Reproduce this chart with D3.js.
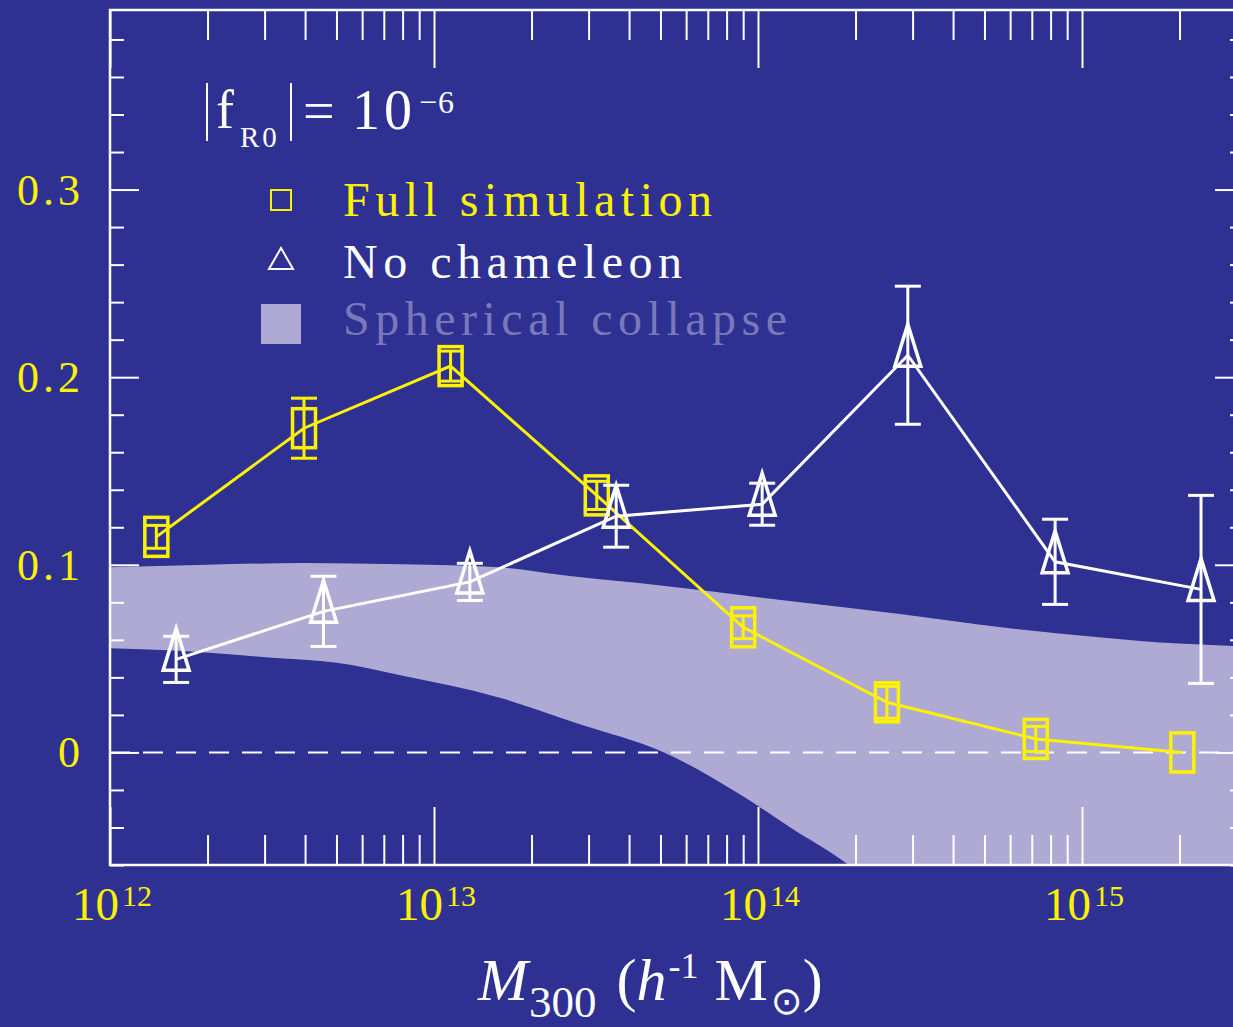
<!DOCTYPE html>
<html>
<head>
<meta charset="utf-8">
<script src="https://cdn.jsdelivr.net/npm/d3@7"></script>
<style>
  html, body { margin: 0; padding: 0; background: #2e3192; }
  svg { display: block; }
</style>
</head>
<body>
<div id="chart"></div>
<script>
// halo mass bins (h^-1 Msun) and fractional deviation
const fullMass = [1.39e12, 3.97e12, 1.125e13, 3.18e13, 9.0e13, 2.5e14, 7.2e14, 2.04e15];
const fullVal  = [0.1149, 0.1728, 0.2059, 0.137, 0.0667, 0.0267, 0.0072, 0.0];
const fullErr  = [0.0061, 0.016, 0.008, 0.0075, 0.0061, 0.0085, 0.0067, 0];

const noChamMass = [1.60e12, 4.56e12, 1.29e13, 3.65e13, 1.03e14, 2.90e14, 8.26e14, 2.33e15];
const noChamVal  = [0.0496, 0.0752, 0.0909, 0.1259, 0.1323, 0.2117, 0.1016, 0.0869];
const noChamErr  = [0.0123, 0.0187, 0.0099, 0.0165, 0.0112, 0.0368, 0.0227, 0.0501];

// spherical collapse band, log10(M) of edge points
const bandUpperLogM = [12.0, 12.3, 12.6, 12.9, 13.2, 13.4, 13.7, 14.13, 14.45, 14.75, 15.06, 15.3, 15.5];
const bandUpper     = [0.0987, 0.1000, 0.1010, 0.1003, 0.0987, 0.0944, 0.0890, 0.0800, 0.0735, 0.0667, 0.0613, 0.0580, 0.0565];
const bandLowerLogM = [12.0, 12.2, 12.5, 12.7, 12.9, 13.2, 13.45, 13.71, 13.95, 14.1, 14.28, 14.45];
const bandLower     = [0.0555, 0.0543, 0.0505, 0.0478, 0.0410, 0.0293, 0.0150, 0.0, -0.023, -0.040, -0.060, -0.085];

const xMajor = [1e12, 1e13, 1e14, 1e15];
const xMajorExp = ["12", "13", "14", "15"];
const yMajor = [0, 0.1, 0.2, 0.3];
const yMajorLabels = ["0", "0.1", "0.2", "0.3"];

const W = 1233, H = 1027;
const bg = "#2e3192", yellow = "#fff200", band = "#aeaad3";
const serif = "'Liberation Serif', 'DejaVu Serif', serif";

const pLeft = 110, pRight = 1244, pTop = 10, pBottom = 865;
const xMax = Math.pow(10, 15.5);
const yMin = -0.06, yMax = 0.3957;

const x = d3.scaleLog().domain([1e12, xMax]).range([pLeft, pRight]);
const y = d3.scaleLinear().domain([yMin, yMax]).range([pBottom, pTop]);

const svg = d3.select("#chart").append("svg")
    .attr("width", W).attr("height", H)
    .style("font-family", serif);

svg.append("rect").attr("width", W).attr("height", H).attr("fill", bg);

svg.append("defs").append("clipPath").attr("id", "plotclip")
  .append("rect")
    .attr("x", pLeft).attr("y", pTop)
    .attr("width", pRight - pLeft).attr("height", pBottom - pTop);

let plot = svg.append("g").attr("clip-path", "url(#plotclip)");

// band
let curve = d3.line().curve(d3.curveMonotoneX);
let upPts = bandUpperLogM.map((m, i) => [x(Math.pow(10, m)), y(bandUpper[i])]);
let loPts = bandLowerLogM.map((m, i) => [x(Math.pow(10, m)), y(bandLower[i])]);
let bandPath = curve(upPts)
    + "L" + x(xMax) + "," + (y(yMin) + 40)
    + "L" + loPts[loPts.length - 1][0] + "," + (y(yMin) + 40)
    + "L" + curve(loPts.slice().reverse()).slice(1) + "Z";
plot.append("path").attr("d", bandPath).attr("fill", band);

// zero line
plot.append("line")
    .attr("x1", pLeft).attr("x2", pRight)
    .attr("y1", y(0)).attr("y2", y(0))
    .attr("stroke", "white").attr("stroke-width", 2)
    .attr("stroke-dasharray", "20,13");

// axes ticks
function minorLogTicks() {
  let t = [];
  for (let e = 12; e <= 15; e++)
    for (let k = 2; k <= 9; k++) {
      let v = k * Math.pow(10, e);
      if (v < xMax) t.push(v);
    }
  return t;
}
let xMinor = minorLogTicks();
let yMinor = d3.range(-0.06, 0.39, 0.02).filter(v => !yMajor.some(m => Math.abs(m - v) < 1e-6));

function styleAxis(g) {
  g.select(".domain").remove();
  g.selectAll("line").attr("stroke", "white").attr("stroke-width", 2);
  g.selectAll("text").remove();
}

svg.append("g").attr("transform", `translate(0,${pBottom})`)
    .call(d3.axisBottom(x).tickValues(xMajor).tickSize(-58)).call(styleAxis);
svg.append("g").attr("transform", `translate(0,${pBottom})`)
    .call(d3.axisBottom(x).tickValues(xMinor).tickSize(-30)).call(styleAxis);
svg.append("g").attr("transform", `translate(0,${pTop})`)
    .call(d3.axisTop(x).tickValues(xMajor).tickSize(-58)).call(styleAxis);
svg.append("g").attr("transform", `translate(0,${pTop})`)
    .call(d3.axisTop(x).tickValues(xMinor).tickSize(-30)).call(styleAxis);

svg.append("g").attr("transform", `translate(${pLeft},0)`)
    .call(d3.axisLeft(y).tickValues(yMajor).tickSize(-29)).call(styleAxis);
svg.append("g").attr("transform", `translate(${pLeft},0)`)
    .call(d3.axisLeft(y).tickValues(yMinor).tickSize(-14)).call(styleAxis);
svg.append("g").attr("transform", `translate(${pRight},0)`)
    .call(d3.axisRight(y).tickValues(yMajor).tickSize(-29)).call(styleAxis);
svg.append("g").attr("transform", `translate(${pRight},0)`)
    .call(d3.axisRight(y).tickValues(yMinor).tickSize(-14)).call(styleAxis);

// frame
svg.append("rect")
    .attr("x", pLeft).attr("y", pTop)
    .attr("width", pRight - pLeft).attr("height", pBottom - pTop)
    .attr("fill", "none").attr("stroke", "white").attr("stroke-width", 2.5);

// tick labels
svg.selectAll(".ylab").data(yMajor).join("text")
    .attr("class", "ylab")
    .attr("x", 84).attr("y", d => y(d) + 15)
    .attr("text-anchor", "end")
    .attr("fill", yellow).attr("font-size", 44)
    .attr("letter-spacing", 4)
    .text((d, i) => yMajorLabels[i]);

let xl = svg.selectAll(".xlab").data(xMajor).join("text")
    .attr("class", "xlab")
    .attr("x", d => x(d) - 38).attr("y", 920)
    .attr("fill", yellow).attr("font-size", 47);
xl.append("tspan").text("10");
xl.append("tspan").attr("font-size", 30).attr("dx", 3).attr("dy", -14)
    .text((d, i) => xMajorExp[i]);

// series
function drawSeries(mass, val, err, color, shape) {
  let g = svg.append("g").attr("clip-path", "url(#plotclip)");
  let pts = mass.map((m, i) => ({x: x(m), y: y(val[i]), lo: y(val[i] - err[i]), hi: y(val[i] + err[i]), e: err[i]}));

  g.append("path")
      .attr("d", d3.line().x(d => d.x).y(d => d.y)(pts))
      .attr("fill", "none").attr("stroke", color).attr("stroke-width", 3);

  let eb = g.selectAll(".eb").data(pts.filter(d => d.e > 0)).join("g")
      .attr("stroke", color).attr("stroke-width", 3);
  eb.append("line").attr("x1", d => d.x).attr("x2", d => d.x).attr("y1", d => d.lo).attr("y2", d => d.hi);
  eb.append("line").attr("x1", d => d.x - 13).attr("x2", d => d.x + 13).attr("y1", d => d.lo).attr("y2", d => d.lo);
  eb.append("line").attr("x1", d => d.x - 13).attr("x2", d => d.x + 13).attr("y1", d => d.hi).attr("y2", d => d.hi);

  if (shape === "square") {
    g.selectAll(".mk").data(pts).join("rect")
        .attr("x", d => d.x - 11.5).attr("y", d => d.y - 19.5)
        .attr("width", 23).attr("height", 39)
        .attr("fill", "none").attr("stroke", color).attr("stroke-width", 3.5);
  } else {
    g.selectAll(".mk").data(pts).join("path")
        .attr("d", d => `M${d.x},${d.y - 31}L${d.x + 13},${d.y + 11}L${d.x - 13},${d.y + 11}Z`)
        .attr("fill", "none").attr("stroke", color).attr("stroke-width", 3.5)
        .attr("stroke-linejoin", "miter");
  }
}
drawSeries(fullMass, fullVal, fullErr, yellow, "square");
drawSeries(noChamMass, noChamVal, noChamErr, "white", "triangle");

// annotation |f_R0| = 10^-6
let ann = svg.append("g").attr("fill", "white");
ann.append("line").attr("x1", 207).attr("x2", 207).attr("y1", 83).attr("y2", 141)
    .attr("stroke", "white").attr("stroke-width", 2);
ann.append("line").attr("x1", 291).attr("x2", 291).attr("y1", 83).attr("y2", 141)
    .attr("stroke", "white").attr("stroke-width", 2);
ann.append("text").attr("x", 216).attr("y", 128).attr("font-size", 54).text("f");
ann.append("text").attr("x", 240).attr("y", 147).attr("font-size", 29).attr("letter-spacing", 3).text("R0");
ann.append("text").attr("x", 303).attr("y", 130).attr("font-size", 56).text("=");
ann.append("text").attr("x", 352).attr("y", 129).attr("font-size", 56).attr("letter-spacing", 4).text("10");
ann.append("text").attr("x", 419).attr("y", 113).attr("font-size", 32).attr("letter-spacing", 1).text("\u22126");

// legend
let lg = svg.append("g");
lg.append("rect").attr("x", 271).attr("y", 190).attr("width", 20).attr("height", 20)
    .attr("fill", "none").attr("stroke", yellow).attr("stroke-width", 2);
lg.append("path").attr("d", "M281,248L293,269L269,269Z")
    .attr("fill", "none").attr("stroke", "white").attr("stroke-width", 2);
lg.append("rect").attr("x", 261).attr("y", 304).attr("width", 40).attr("height", 40).attr("fill", band);

const legendItems = [
  {label: "Full simulation", color: yellow, yb: 216},
  {label: "No chameleon", color: "white", yb: 278},
  {label: "Spherical collapse", color: "#7878bb", yb: 335}
];
lg.selectAll(".lt").data(legendItems).join("text")
    .attr("x", 343).attr("y", d => d.yb)
    .attr("fill", d => d.color).attr("font-size", 48)
    .attr("letter-spacing", 5.5)
    .text(d => d.label);

// x axis title
let xt = svg.append("text").attr("x", 478).attr("y", 1000)
    .attr("fill", "white").attr("font-size", 60);
xt.append("tspan").attr("font-style", "italic").text("M");
xt.append("tspan").attr("font-size", 45).attr("dx", 1).attr("dy", 17).text("300");
xt.append("tspan").attr("dx", 20).attr("dy", -17).text("(");
xt.append("tspan").attr("font-style", "italic").text("h");
xt.append("tspan").attr("font-size", 36).attr("dx", 2).attr("dy", -22).text("-1");
xt.append("tspan").attr("dx", 16).attr("dy", 22).text("M");
xt.append("tspan").attr("font-size", 38).attr("font-family", "'DejaVu Sans', sans-serif").attr("dx", 3).attr("dy", 14).text("\u2299");
xt.append("tspan").attr("dy", -14).text(")");
</script>
</body>
</html>
